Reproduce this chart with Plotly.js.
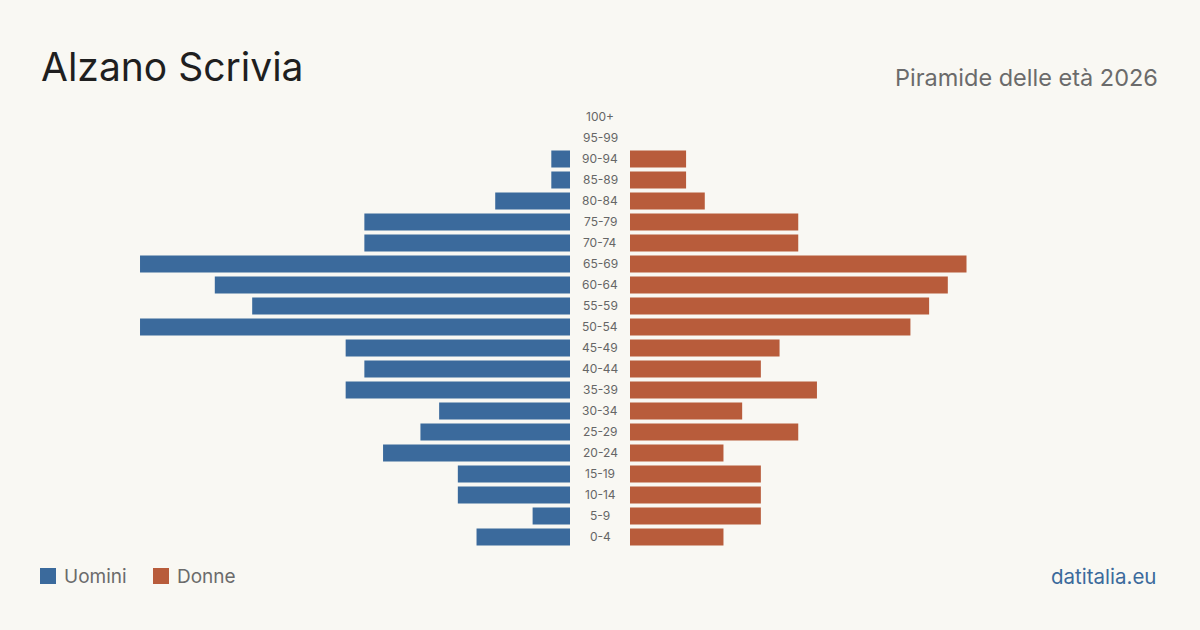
<!DOCTYPE html>
<html>
<head>
<meta charset="utf-8">
<script src="https://cdn.plot.ly/plotly-3.0.1.min.js"></script>
<style>
html,body{margin:0;padding:0;background:#f9f8f3;}
#chart{width:1200px;height:630px;}
</style>
</head>
<body>
<div id="chart"></div>
<script>
const ageGroups = ["0-4","5-9","10-14","15-19","20-24","25-29","30-34","35-39","40-44","45-49","50-54","55-59","60-64","65-69","70-74","75-79","80-84","85-89","90-94","95-99","100+"];
const men   = [5,2,6,6,10,8,7,12,11,12,23,17,19,23,11,11,4,1,1,0,0];
const women = [5,7,7,7,5,9,6,10,7,8,15,16,17,18,9,9,4,3,3,0,0];
const seriesNames = ["Uomini","Donne"];
const colors = ["#3b6a9c","#b85c3b"];
const titleText = "Alzano Scrivia";
const subtitleText = "Piramide delle età 2026";
const sourceText = "datitalia.eu";

const W = 1200, H = 630;
const R = 28.35;
const font = "Inter, 'Noto Sans', sans-serif";

const traces = [
  {type:"bar", orientation:"h", y:ageGroups, x:men, xaxis:"x", yaxis:"y",
   marker:{color:colors[0]}, name:seriesNames[0], hoverinfo:"x+y"},
  {type:"bar", orientation:"h", y:ageGroups, x:women, xaxis:"x2", yaxis:"y2",
   marker:{color:colors[1]}, name:seriesNames[1], hoverinfo:"x+y"}
];

const yDom = [(H-547.5)/H, (H-106.5)/H];
const yax = {type:"category", categoryorder:"array", categoryarray:ageGroups,
  range:[-0.5, ageGroups.length-0.5], domain:yDom, showticklabels:false,
  showgrid:false, zeroline:false, showline:false, ticks:""};

const annotations = ageGroups.map(g => ({
  text:g, x:0.5, xref:"paper", y:g, yref:"y", showarrow:false, yshift:0.5,
  font:{family:font, size:12, color:"#666"}, xanchor:"center", yanchor:"middle"
}));
annotations.push(
  {text:titleText, x:39/W, xref:"paper", y:(H-67)/H, yref:"paper", showarrow:false,
   xanchor:"left", yanchor:"middle", font:{family:font, size:39, color:"#1f1f1f"}},
  {text:subtitleText, x:1160/W, xref:"paper", y:(H-77)/H, yref:"paper", showarrow:false,
   xanchor:"right", yanchor:"middle", font:{family:font, size:23.5, color:"#6b6b6b"}},
  {text:sourceText, x:1158/W, xref:"paper", y:(H-576)/H, yref:"paper", showarrow:false,
   xanchor:"right", yanchor:"middle", font:{family:font, size:20.5, color:"#3b6a9c"}}
);
const legendX = [40, 153];
const shapes = [];
seriesNames.forEach((n,i) => {
  shapes.push({type:"rect", xref:"paper", yref:"paper",
    x0:legendX[i]/W, x1:(legendX[i]+16)/W, y0:(H-584)/H, y1:(H-568)/H,
    fillcolor:colors[i], line:{width:0}});
  annotations.push({text:n, x:(legendX[i]+22)/W, xref:"paper", y:(H-576)/H, yref:"paper",
    showarrow:false, xanchor:"left", yanchor:"middle",
    font:{family:font, size:19, color:"#6b6b6b"}});
});

const layout = {
  width:W, height:H, margin:{l:0,r:0,t:0,b:0},
  paper_bgcolor:"#f9f8f3", plot_bgcolor:"rgba(0,0,0,0)",
  showlegend:false, bargap:0.19,
  xaxis:{domain:[40/W, 570/W], range:[R,0], showgrid:false, zeroline:false,
    showticklabels:false, showline:false, ticks:"", fixedrange:true},
  xaxis2:{domain:[630/W, 1160/W], range:[0,R], showgrid:false, zeroline:false,
    showticklabels:false, showline:false, ticks:"", fixedrange:true},
  yaxis:Object.assign({anchor:"x"}, yax),
  yaxis2:Object.assign({anchor:"x2"}, yax),
  annotations:annotations, shapes:shapes
};

Plotly.newPlot("chart", traces, layout, {displayModeBar:false, staticPlot:true});
</script>
</body>
</html>
